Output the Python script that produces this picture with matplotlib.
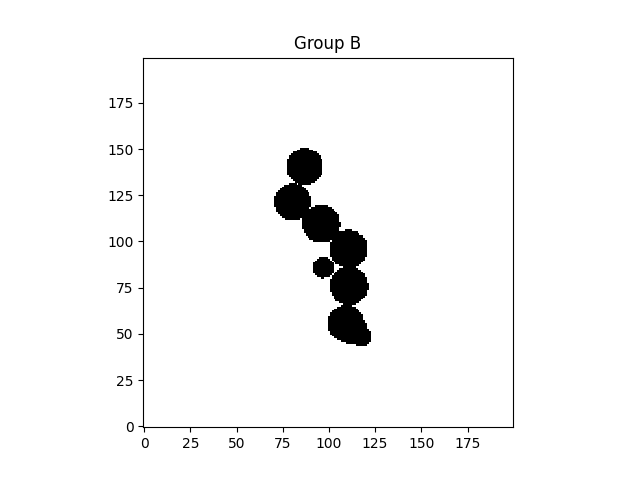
import numpy as np
import matplotlib
matplotlib.use("Agg")
from matplotlib import pyplot as plt

# disk centres and radii (pixel units of the 200x200 mask)
cx = [87.0, 80.5, 95.8, 110.6, 96.9, 110.8, 109.3, 113.5, 117.5]
cy = [140.3, 121.2, 109.4, 95.8, 85.7, 75.8, 55.5, 51.5, 48.5]
radius = [10.0, 10.0, 10.3, 10.4, 5.8, 10.4, 10.0, 7.5, 5.2]
size = 200

yy, xx = np.mgrid[0:size, 0:size]
mask = np.zeros((size, size))
for x0, y0, r in zip(cx, cy, radius):
    mask[(xx - x0) ** 2 + (yy - y0) ** 2 <= r ** 2] = 1

fig, ax = plt.subplots(figsize=(6.4, 4.8), dpi=100)
ax.imshow(mask, cmap="gray_r", origin="lower", interpolation="nearest")
ax.set_title("Group B")

fig.savefig("out.png")
